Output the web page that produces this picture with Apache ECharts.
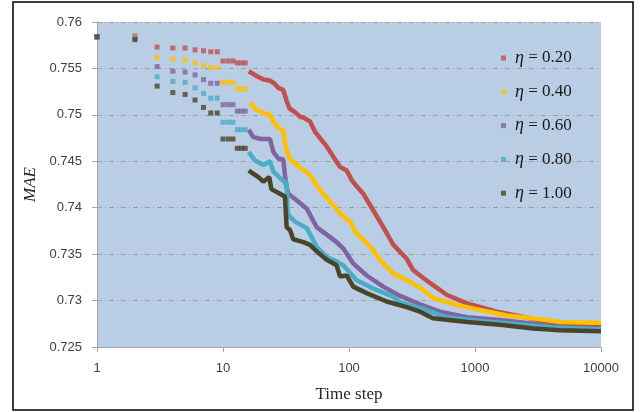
<!DOCTYPE html>
<html>
<head>
<meta charset="utf-8">
<script src="https://cdn.jsdelivr.net/npm/echarts@6/dist/echarts.min.js"></script>
<style>
  html, body { margin: 0; padding: 0; background: #fff; }
  #chart { width: 643px; height: 412px; }
</style>
</head>
<body>
<div id="chart"></div>
<script>
// 曲线前段：每个时间步一个点
const earlySteps = [1, 2, 3, 4, 5, 6, 7, 8, 9, 10, 11, 12, 13, 14, 15]
const eta020Early = [0.7584, 0.7585, 0.7573, 0.7572, 0.7572, 0.7570, 0.7569, 0.7568, 0.7568, 0.7558, 0.7558, 0.7558, 0.7556, 0.7556, 0.7556]
const eta040Early = [0.7584, 0.7584, 0.7562, 0.7560, 0.7559, 0.7556, 0.7553, 0.7551, 0.7551, 0.7535, 0.7535, 0.7535, 0.7528, 0.7528, 0.7528]
const eta060Early = [0.7584, 0.7583, 0.7552, 0.7547, 0.7546, 0.7543, 0.7538, 0.7534, 0.7534, 0.7511, 0.7511, 0.7511, 0.7504, 0.7504, 0.7504]
const eta080Early = [0.7584, 0.7582, 0.7541, 0.7536, 0.7535, 0.7529, 0.7523, 0.7518, 0.7518, 0.7492, 0.7492, 0.7492, 0.7484, 0.7484, 0.7484]
const eta100Early = [0.7584, 0.7581, 0.7531, 0.7524, 0.7522, 0.7516, 0.7508, 0.7502, 0.7502, 0.7474, 0.7474, 0.7474, 0.7464, 0.7464, 0.7464]

// 曲线后段（点很密，画成粗线）
const eta020Steps = [16, 17.9, 19, 20.9, 23.5, 25.5, 27.5, 30, 32, 33.6, 37.3, 40.8, 43.4, 49, 53.7, 58.9, 66.5, 75, 84.8, 95.9, 105, 115, 130, 156, 187, 225, 287, 322, 439, 600, 864, 1496, 2733, 4730, 10000]
const eta020Values = [0.7547, 0.7543, 0.7541, 0.7538, 0.7537, 0.7534, 0.7529, 0.7527, 0.7515, 0.7507, 0.7503, 0.7498, 0.7497, 0.7493, 0.7482, 0.7475, 0.7466, 0.7455, 0.7444, 0.7440, 0.7430, 0.7423, 0.7415, 0.7397, 0.7379, 0.7360, 0.7345, 0.7333, 0.7319, 0.7306, 0.7297, 0.7288, 0.7281, 0.7274, 0.7271]

const eta040Steps = [16.4, 18.5, 21, 23.6, 25.1, 27.5, 30.1, 31.6, 34, 37.3, 42.1, 47.5, 52.1, 55.4, 62.5, 75, 87.5, 101.8, 115, 138, 156, 176, 225, 287, 366, 464, 720, 1096, 1795, 2887, 4730, 10000]
const eta040Values = [0.7513, 0.7505, 0.7502, 0.7500, 0.7493, 0.7486, 0.7483, 0.7464, 0.7452, 0.7448, 0.7442, 0.7437, 0.7430, 0.7424, 0.7415, 0.7403, 0.7392, 0.7385, 0.7372, 0.7362, 0.7354, 0.7344, 0.7329, 0.7322, 0.7314, 0.7303, 0.7295, 0.7290, 0.7284, 0.7281, 0.7277, 0.7276]

const eta060Steps = [16, 17.4, 20, 23.6, 25.1, 27.5, 30.1, 31.6, 33, 38.4, 46.2, 55.4, 66.5, 79.8, 90.1, 108, 138, 187, 254, 366, 527, 864, 1578, 2887, 5372, 10000]
const eta060Values = [0.7484, 0.7476, 0.7474, 0.7474, 0.7460, 0.7453, 0.7452, 0.7425, 0.7415, 0.7408, 0.7399, 0.7379, 0.7371, 0.7363, 0.7356, 0.7340, 0.7327, 0.7315, 0.7305, 0.7296, 0.7288, 0.7282, 0.7279, 0.7275, 0.7271, 0.7270]

const eta080Steps = [16, 17.9, 20.9, 23.6, 25.1, 28.3, 32, 32.5, 33, 37.3, 46.2, 55.4, 66.5, 79.8, 90.1, 115, 156, 225, 254, 366, 600, 1096, 2004, 4155, 10000]
const eta080Values = [0.7460, 0.7451, 0.7446, 0.7450, 0.7439, 0.7432, 0.7426, 0.7399, 0.7392, 0.7385, 0.7378, 0.7358, 0.7347, 0.7342, 0.7338, 0.7322, 0.7313, 0.7304, 0.7298, 0.7292, 0.7282, 0.7278, 0.7275, 0.7271, 0.7269]

const eta100Steps = [16, 19.1, 20.9, 23.3, 24.2, 28.3, 31, 32, 34, 36.1, 43.4, 49, 55.4, 66.5, 79.8, 84.8, 95.9, 108, 138, 199, 287, 366, 464, 864, 1578, 2887, 4730, 10000]
const eta100Values = [0.7440, 0.7433, 0.7428, 0.7433, 0.7420, 0.7415, 0.7412, 0.7379, 0.7376, 0.7366, 0.7363, 0.7360, 0.7353, 0.7344, 0.7338, 0.7326, 0.7327, 0.7315, 0.7308, 0.7299, 0.7293, 0.7288, 0.7281, 0.7277, 0.7274, 0.7270, 0.7268, 0.7267]

const etaLabels = ['0.20', '0.40', '0.60', '0.80', '1.00']
const colors = ['#C0504D', '#FFC000', '#8064A2', '#4BACC6', '#4A4528']
const yTicks = [0.725, 0.73, 0.735, 0.74, 0.745, 0.75, 0.755, 0.76]
const xTicks = [1, 10, 100, 1000, 10000]

const earlyList = [eta020Early, eta040Early, eta060Early, eta080Early, eta100Early]
const stepList = [eta020Steps, eta040Steps, eta060Steps, eta080Steps, eta100Steps]
const valueList = [eta020Values, eta040Values, eta060Values, eta080Values, eta100Values]

const serifFont = '"Liberation Serif", "Times New Roman", serif'
const sansFont = '"Liberation Sans", Arial, sans-serif'

const seriesItems = []
etaLabels.forEach((lab, i) => {
  const name = 'η = ' + lab
  seriesItems.push({
    type: 'scatter',
    name: name,
    symbol: 'rect',
    symbolSize: 5,
    itemStyle: { color: colors[i] },
    data: earlySteps.map((t, k) => [t, earlyList[i][k]]),
    z: 2 + i
  })
  seriesItems.push({
    type: 'line',
    name: name,
    symbol: 'none',
    showSymbol: false,
    itemStyle: { color: colors[i] },
    lineStyle: { color: colors[i], width: 4.5 },
    data: stepList[i].map((t, k) => [t, valueList[i][k]]),
    z: 2 + i
  })
})

const myChart = echarts.init(document.getElementById('chart'), null, { renderer: 'canvas' })
const options = {
  animation: false,
  backgroundColor: '#fff',
  color: colors,
  grid: {
    left: 97,
    right: 42,
    top: 22,
    bottom: 65,
    show: true,
    backgroundColor: '#B9CDE5',
    borderWidth: 0
  },
  legend: {
    data: etaLabels.map(lab => 'η = ' + lab),
    orient: 'vertical',
    left: 496,
    top: 44,
    itemWidth: 5,
    itemHeight: 5,
    itemGap: 15.8,
    icon: 'rect',
    selectedMode: false,
    formatter: (name) => '{i|η}{t|' + name.slice(1) + '}',
    textStyle: {
      padding: [0, 0, 0, 4],
      rich: {
        i: { fontFamily: serifFont, fontStyle: 'italic', fontSize: 18, color: '#1a1a1a', lineHeight: 22 },
        t: { fontFamily: serifFont, fontSize: 17, color: '#1a1a1a', lineHeight: 22 }
      }
    }
  },
  xAxis: {
    type: 'log',
    logBase: 10,
    min: xTicks[0],
    max: xTicks[xTicks.length - 1],
    name: 'Time step',
    nameLocation: 'middle',
    nameGap: 39,
    nameTextStyle: { fontFamily: serifFont, fontSize: 17, color: '#262626' },
    axisLine: { lineStyle: { color: '#A6A6A6', width: 1 } },
    axisTick: { show: true, length: 5, lineStyle: { color: '#A6A6A6' } },
    minorTick: { show: false },
    splitLine: { show: false },
    axisLabel: {
      margin: 15,
      fontFamily: sansFont,
      fontSize: 13,
      color: '#404040',
      formatter: (v) => String(Math.round(v))
    }
  },
  yAxis: {
    type: 'value',
    min: yTicks[0],
    max: yTicks[yTicks.length - 1],
    interval: 0.005,
    name: 'MAE',
    nameLocation: 'middle',
    nameGap: 57,
    nameTextStyle: { fontFamily: serifFont, fontStyle: 'italic', fontSize: 17, color: '#262626' },
    axisLine: { show: true, lineStyle: { color: '#A6A6A6', width: 1 } },
    axisTick: { show: true, length: 5, lineStyle: { color: '#A6A6A6' } },
    axisLabel: {
      margin: 15,
      fontFamily: sansFont,
      fontSize: 13,
      color: '#404040',
      formatter: (v) => String(parseFloat(v.toFixed(3)))
    },
    // 分割线：点划线
    splitLine: {
      show: true,
      lineStyle: { color: '#9A9FA6', width: 1, type: [5, 3, 1, 3] }
    }
  },
  graphic: [
    {
      type: 'rect',
      shape: { x: 13, y: 2, width: 620, height: 408 },
      style: { fill: 'none', stroke: '#000', lineWidth: 1.5 },
      silent: true
    }
  ],
  series: seriesItems
}
myChart.setOption(options)
</script>
</body>
</html>
